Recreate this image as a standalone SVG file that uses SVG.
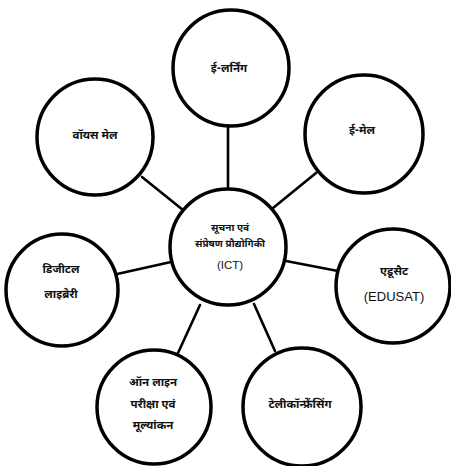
<svg xmlns="http://www.w3.org/2000/svg" width="451" height="466" viewBox="0 0 451 466">
<style>
.c{fill:#fff;stroke:#000;stroke-width:3.5}
.l{stroke:#000;stroke-width:2.6;fill:none;stroke-linecap:round}
text{font-family:"Noto Sans Devanagari","Noto Sans","Liberation Sans",sans-serif;font-size:11.5px;font-weight:bold;text-anchor:middle;dominant-baseline:central;fill:#111}
.s{font-size:10px}
.e{font-family:"Liberation Sans Narrow","Liberation Sans",sans-serif;font-weight:normal;font-size:13px}
.i{font-size:11.5px}
</style>
<rect width="451" height="466" fill="#fff"/>
<g id="connectors">
<line class="l" x1="228" y1="126" x2="228" y2="189"/>
<line class="l" x1="142" y1="177" x2="183" y2="210"/>
<line class="l" x1="316" y1="173" x2="273" y2="208"/>
<line class="l" x1="117" y1="274" x2="171" y2="262"/>
<line class="l" x1="286" y1="261" x2="338" y2="271"/>
<line class="l" x1="200" y1="305" x2="178" y2="353"/>
<line class="l" x1="254" y1="304" x2="275" y2="351"/>
</g>
<g id="ict">
<circle class="c" cx="228" cy="247" r="58"/>
<text class="s" x="230" y="228">सूचना एवं</text>
<text class="s" x="230" y="244">संप्रेषण प्रौद्योगिकी</text>
<text class="e i" x="230" y="265">(ICT)</text>
</g>
<g id="elearning">
<circle class="c" cx="231" cy="68" r="58"/>
<text x="229" y="69">ई-लर्निंग</text>
</g>
<g id="voicemail">
<circle class="c" cx="95" cy="137" r="58"/>
<text x="95" y="136">वॉयस मेल</text>
</g>
<g id="email">
<circle class="c" cx="364" cy="134" r="59"/>
<text x="362" y="131">ई-मेल</text>
</g>
<g id="digital">
<circle class="c" cx="62" cy="290" r="56"/>
<text x="61" y="270">डिजीटल</text>
<text x="61" y="295">लाइब्रेरी</text>
</g>
<g id="edusat">
<circle class="c" cx="393" cy="286" r="57"/>
<text x="394" y="272">एडूसैट</text>
<text class="e" x="394" y="296">(EDUSAT)</text>
</g>
<g id="online">
<circle class="c" cx="154" cy="407" r="57"/>
<text x="153" y="383">ऑन लाइन</text>
<text x="153" y="405">परीक्षा एवं</text>
<text x="153" y="426">मूल्यांकन</text>
</g>
<g id="tele">
<circle class="c" cx="302" cy="407" r="59"/>
<text x="300" y="405">टेलीकॉन्फ्रेंसिंग</text>
</g>
</svg>
